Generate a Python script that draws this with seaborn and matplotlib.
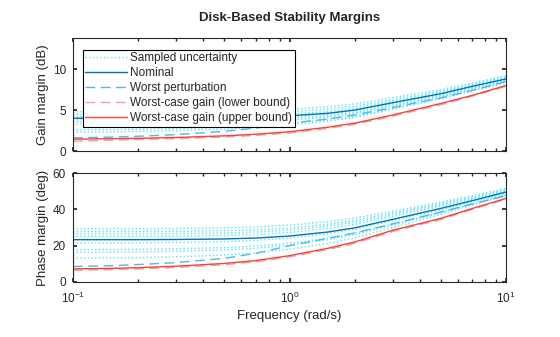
import numpy as np
import pandas as pd
import matplotlib
matplotlib.use("Agg")
import matplotlib.pyplot as plt
import seaborn as sns

# ---------------- data ----------------
freq = [0.1, 0.15, 0.2, 0.3, 0.5, 0.7, 1.0, 1.5, 2.0, 3.0, 5.0, 7.0, 10.0]

gm_nominal = [4.0, 4.0, 4.0, 4.05, 4.1, 4.2, 4.3, 4.6, 5.0, 5.9, 7.0, 7.9, 8.8]
gm_worst_pert = [1.6, 1.7, 1.8, 2.0, 2.4, 2.8, 3.4, 3.9, 4.4, 5.3, 6.5, 7.4, 8.5]
gm_wc_lower = [1.2, 1.3, 1.4, 1.5, 1.7, 1.9, 2.2, 2.75, 3.25, 4.25, 5.65, 6.7, 7.9]
gm_wc_upper = [1.45, 1.5, 1.55, 1.65, 1.85, 2.05, 2.35, 2.9, 3.4, 4.4, 5.8, 6.8, 8.0]
gm_samples = [
    [4.8, 4.8, 4.8, 4.85, 4.9, 5.0, 5.1, 5.4, 5.75, 6.5, 7.5, 8.3, 9.2],
    [4.5, 4.5, 4.5, 4.55, 4.6, 4.7, 4.8, 5.1, 5.45, 6.25, 7.3, 8.15, 9.05],
    [4.2, 4.2, 4.2, 4.25, 4.3, 4.4, 4.5, 4.8, 5.2, 6.05, 7.15, 8.0, 8.9],
    [3.9, 3.9, 3.9, 3.95, 4.0, 4.1, 4.2, 4.5, 4.9, 5.8, 6.9, 7.8, 8.7],
    [3.6, 3.6, 3.62, 3.66, 3.75, 3.85, 4.0, 4.3, 4.7, 5.6, 6.75, 7.65, 8.6],
    [3.3, 3.3, 3.33, 3.38, 3.48, 3.6, 3.8, 4.1, 4.55, 5.45, 6.6, 7.55, 8.5],
    [2.6, 2.62, 2.66, 2.75, 2.9, 3.1, 3.4, 3.8, 4.25, 5.2, 6.45, 7.4, 8.35],
    [2.3, 2.33, 2.38, 2.48, 2.66, 2.9, 3.2, 3.65, 4.1, 5.1, 6.35, 7.35, 8.3],
]

pm_nominal = [23.3, 23.3, 23.3, 23.4, 23.7, 24.2, 25.3, 27.5, 29.8, 34.5, 40.5, 44.8, 49.5]
pm_worst_pert = [8.5, 9.0, 9.6, 10.7, 13.0, 15.8, 20.0, 24.0, 27.0, 32.0, 38.5, 43.0, 47.5]
pm_wc_lower = [6.5, 6.8, 7.2, 8.0, 9.5, 11.1, 13.8, 17.8, 21.3, 27.8, 34.4, 40.0, 45.6]
pm_wc_upper = [7.2, 7.5, 7.9, 8.7, 10.2, 11.8, 14.5, 18.5, 22.0, 28.5, 35.0, 40.5, 46.0]
pm_samples = [
    [29.4, 29.4, 29.4, 29.5, 29.8, 30.3, 31.3, 33.2, 35.2, 39.0, 44.0, 47.5, 51.5],
    [27.8, 27.8, 27.8, 27.9, 28.2, 28.7, 29.7, 31.8, 33.9, 38.0, 43.2, 46.9, 51.0],
    [26.6, 26.6, 26.6, 26.7, 27.0, 27.5, 28.6, 30.7, 32.9, 37.1, 42.5, 46.3, 50.5],
    [25.2, 25.2, 25.2, 25.3, 25.6, 26.1, 27.2, 29.4, 31.7, 36.1, 41.7, 45.6, 50.0],
    [21.5, 21.5, 21.6, 21.8, 22.2, 22.9, 24.2, 26.6, 29.0, 33.8, 39.8, 44.2, 49.0],
    [17.8, 17.9, 18.0, 18.3, 18.9, 19.8, 21.4, 24.1, 26.8, 31.9, 38.4, 43.2, 48.3],
    [16.3, 16.4, 16.5, 16.9, 17.6, 18.6, 20.3, 23.2, 26.0, 31.3, 38.0, 42.9, 48.0],
    [13.1, 13.2, 13.4, 13.9, 14.8, 16.0, 18.0, 21.2, 24.3, 30.0, 37.2, 42.4, 47.5],
]

labels = ["Sampled uncertainty", "Nominal", "Worst perturbation",
          "Worst-case gain (lower bound)", "Worst-case gain (upper bound)"]
title = "Disk-Based Stability Margins"
xlabel = "Frequency (rad/s)"
ylabels = ["Gain margin (dB)", "Phase margin (deg)"]

# ---------------- style ----------------
sns.set_theme(style="ticks")
plt.rcParams["font.family"] = ["Liberation Sans", "DejaVu Sans"]
plt.rcParams["mathtext.default"] = "regular"
plt.rcParams["axes.edgecolor"] = "#262626"
plt.rcParams["axes.linewidth"] = 0.8

c_sample = "#5BE3F5"
c_nom = "#0072BD"
c_wp = "#4DB8EE"
c_lo = "#FF9A9A"
c_up = "#F0443A"
txt = "#262626"

fig = plt.figure(figsize=(5.6, 3.37), dpi=100)
ax1 = fig.add_axes([73 / 560, 1 - 151 / 337, 433 / 560, 113 / 337])
ax2 = fig.add_axes([73 / 560, 1 - 282 / 337, 433 / 560, 109 / 337])


def draw(ax, samples, nom, wp, lo, up, with_labels):
    for i, s in enumerate(samples):
        sns.lineplot(x=freq, y=s, ax=ax, color=c_sample, linestyle=":", linewidth=1.0,
                     label=labels[0] if (with_labels and i == 0) else None, legend=False)
    sns.lineplot(x=freq, y=nom, ax=ax, color=c_nom, linewidth=1.0,
                 label=labels[1] if with_labels else None, legend=False)
    sns.lineplot(x=freq, y=wp, ax=ax, color=c_wp, linestyle=(0, (7, 4)), linewidth=1.0,
                 label=labels[2] if with_labels else None, legend=False)
    sns.lineplot(x=freq, y=lo, ax=ax, color=c_lo, linestyle=(0, (7, 4)), linewidth=1.0,
                 label=labels[3] if with_labels else None, legend=False)
    sns.lineplot(x=freq, y=up, ax=ax, color=c_up, linewidth=1.0,
                 label=labels[4] if with_labels else None, legend=False)


draw(ax1, gm_samples, gm_nominal, gm_worst_pert, gm_wc_lower, gm_wc_upper, True)
draw(ax2, pm_samples, pm_nominal, pm_worst_pert, pm_wc_lower, pm_wc_upper, False)

for ax in (ax1, ax2):
    ax.set_xscale("log")
    ax.set_xlim(0.1, 10)
    ax.tick_params(which="both", direction="in", top=True, right=True,
                   labelsize=8.5, colors=txt, length=3)
    ax.tick_params(which="minor", length=2)
    ax.tick_params(axis="x", pad=6)
    ax.tick_params(axis="y", pad=5)
    for sp in ax.spines.values():
        sp.set_visible(True)
        sp.set_color("#262626")

ax1.set_ylim(0, 13.8)
ax1.set_yticks([0, 5, 10])
ax1.tick_params(labelbottom=False)
ax2.set_ylim(0, 60)
ax2.set_yticks([0, 20, 40, 60])

ax1.set_ylabel(ylabels[0], fontsize=9.5, color=txt, labelpad=3)
ax2.set_ylabel(ylabels[1], fontsize=9.5, color=txt, labelpad=3)
ax2.set_xlabel(xlabel, fontsize=9.5, color=txt, labelpad=3)
ax1.set_title(title, fontsize=9.5, fontweight="bold", color=txt, pad=12)

handles, labs = ax1.get_legend_handles_labels()
leg = ax1.legend(handles, labs, loc="upper left", bbox_to_anchor=(0.023, 0.894),
                 fontsize=8.5, frameon=True, fancybox=False, edgecolor="black",
                 framealpha=1, borderpad=0.2, labelspacing=0.25, handlelength=3.5,
                 handletextpad=0.3, borderaxespad=0.0)
leg.get_frame().set_linewidth(0.8)
for t in leg.get_texts():
    t.set_color(txt)

fig.savefig("out.png", dpi=100)
